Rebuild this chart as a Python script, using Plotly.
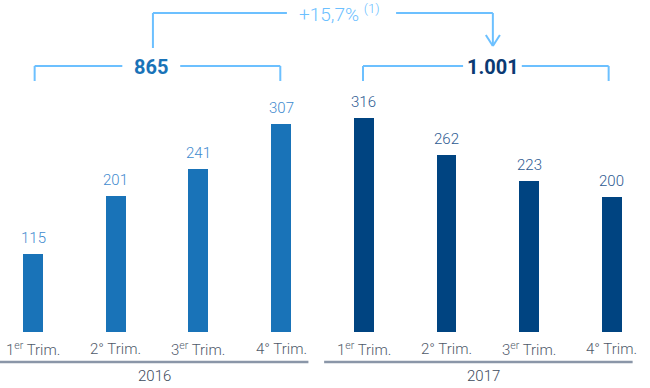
import plotly.graph_objects as go

years = ['2016', '2017']
quarters = ['1<sup>er</sup> Trim.', '2° Trim.', '3<sup>er</sup> Trim.', '4° Trim.']
values_2016 = [115, 201, 241, 307]
values_2017 = [316, 262, 223, 200]
totals = ['865', '1.001']
growth_label = '+15,7% <sup>(1)</sup>'

bar_colors = ['#1973B8', '#004481']
label_colors = ['#3f8bcf', '#2d5a91']
total_colors = ['#1973B8', '#0b3a73']
bracket_color = '#6cc0ff'
FONT = 'Roboto, Arial, sans-serif'

series = [values_2016, values_2017]

fig = go.Figure()
annotations = []
shapes = []


def seg(x0, y0, x1, y1, color=bracket_color, width=2):
    shapes.append(dict(type='line', xref='x', yref='y', x0=x0, y0=y0, x1=x1, y1=y1,
                       line=dict(color=color, width=width)))


for g, vals in enumerate(series):
    xs = [g * len(quarters) + i for i in range(len(vals))]
    fig.add_trace(go.Bar(
        x=xs, y=vals, width=0.24, name=years[g],
        marker=dict(color=bar_colors[g], line=dict(width=0)),
        hoverinfo='y', showlegend=False
    ))
    for x, v in zip(xs, vals):
        annotations.append(dict(x=x, y=v, xref='x', yref='y', text=str(v), showarrow=False,
                                yanchor='bottom', yshift=5,
                                font=dict(family=FONT, size=15, color=label_colors[g], weight=300)))
    for x, q in zip(xs, quarters):
        annotations.append(dict(x=x, y=-25, xref='x', yref='y', text=q, showarrow=False,
                                yanchor='middle',
                                font=dict(family=FONT, size=15, color='#4f5a6a', weight=300)))

# year axis lines and labels
seg(-0.45, -44.3, 3.33, -44.3, color='#8a96a8', width=2.5)
seg(3.52, -44.3, 7.25, -44.3, color='#8a96a8', width=2.5)
annotations.append(dict(x=1.47, y=-65, xref='x', yref='y', text=years[0], showarrow=False,
                        font=dict(family=FONT, size=15, color='#3d4a5c', weight=300)))
annotations.append(dict(x=5.45, y=-65, xref='x', yref='y', text=years[1], showarrow=False,
                        font=dict(family=FONT, size=15, color='#3d4a5c', weight=300)))

# group brackets with totals
yb, yv = 392.9, 370.8
brackets = [(0.02, 1.08, 1.78, 2.99, 1.43), (3.99, 5.20, 5.91, 6.96, 5.56)]
for g, (a, b, c, d, mid) in enumerate(brackets):
    seg(a, yv, a, yb)
    seg(a, yb, b, yb)
    seg(c, yb, d, yb)
    seg(d, yb, d, yv)
    annotations.append(dict(x=mid, y=391, xref='x', yref='y', text='<b>' + totals[g] + '</b>',
                            showarrow=False, yanchor='middle',
                            font=dict(family=FONT, size=20, color=total_colors[g])))

# growth bracket with arrow
yt = 471.2
seg(1.45, 419.5, 1.45, yt)
seg(1.45, yt, 3.07, yt)
seg(4.39, yt, 5.56, yt)
seg(5.56, yt, 5.56, 422.5)
seg(5.475, 438.7, 5.56, 422.5)
seg(5.645, 438.7, 5.56, 422.5)
annotations.append(dict(x=3.19, y=yt, xref='x', yref='y', text=growth_label, showarrow=False,
                        xanchor='left', yanchor='middle',
                        font=dict(family=FONT, size=19, color=bracket_color, weight=300)))

fig.update_layout(
    width=650, height=388,
    margin=dict(l=0, r=0, t=0, b=0),
    paper_bgcolor='white', plot_bgcolor='white',
    xaxis=dict(range=[-0.399, 7.46], visible=False, fixedrange=True),
    yaxis=dict(range=[-82.7, 490.4], visible=False, fixedrange=True),
    annotations=annotations,
    shapes=shapes,
    bargap=0,
)

fig.write_html("out.html", post_script="document.body.style.margin='0';",
               config={'displayModeBar': False})
